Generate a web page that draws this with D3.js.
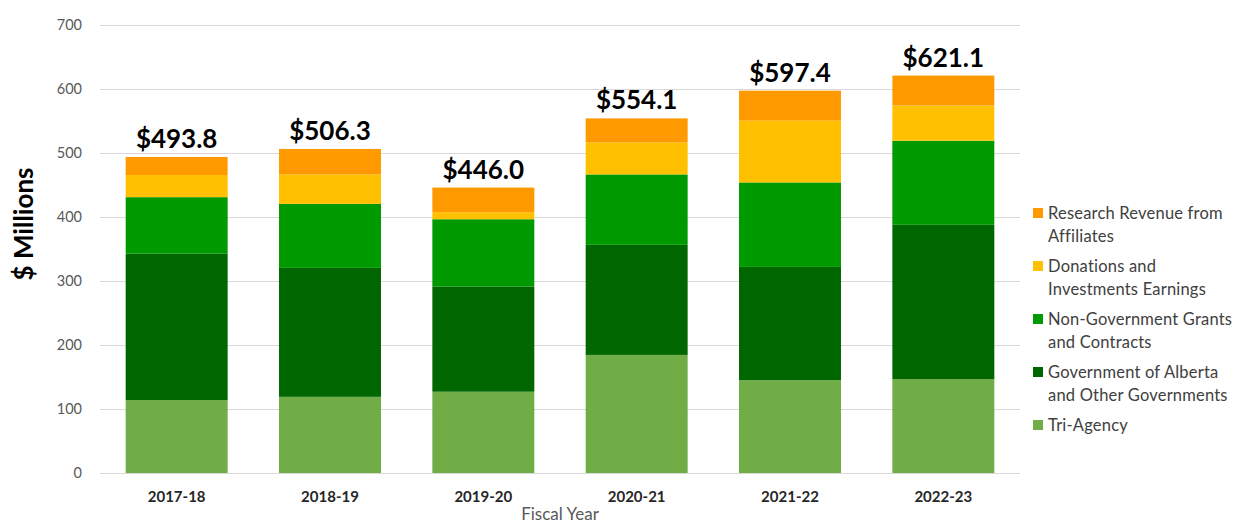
<!DOCTYPE html>
<html>
<head>
<meta charset="utf-8">
<script src="https://cdn.jsdelivr.net/npm/d3@7"></script>
<style>
  body { margin: 0; background: #fff; }
  svg text { font-family: Lato, "Open Sans", sans-serif; }
</style>
</head>
<body>
<div id="chart"></div>
<script>
const years = ["2017-18", "2018-19", "2019-20", "2020-21", "2021-22", "2022-23"];
const triAgency = [114.0, 119.0, 127.0, 184.5, 145.0, 146.6];
const govAlberta = [228.6, 201.5, 164.5, 172.0, 177.0, 241.2];
const nonGov = [88.4, 100.0, 105.0, 110.0, 132.0, 131.4];
const donations = [34.6, 46.0, 11.0, 50.0, 96.5, 55.0];
const affiliates = [28.2, 39.8, 38.5, 37.6, 46.9, 46.8];
const totals = ["$493.8", "$506.3", "$446.0", "$554.1", "$597.4", "$621.1"];
const yTicks = [0, 100, 200, 300, 400, 500, 600, 700];

const series = [
  { key: "tri", name: ["Tri-Agency"], values: triAgency, color: "#70ad47" },
  { key: "gov", name: ["Government of Alberta", "and Other Governments"], values: govAlberta, color: "#006600" },
  { key: "nongov", name: ["Non-Government Grants", "and Contracts"], values: nonGov, color: "#009900" },
  { key: "don", name: ["Donations and", "Investments Earnings"], values: donations, color: "#ffc000" },
  { key: "aff", name: ["Research Revenue from", "Affiliates"], values: affiliates, color: "#ff9900" }
];

const W = 1239, H = 527;
const margin = { top: 25, left: 100, right: 219, bottom: 54 };
const width = W - margin.left - margin.right;
const height = H - margin.top - margin.bottom;

const table = years.map((yr, i) => {
  const row = { year: yr };
  series.forEach(s => row[s.key] = s.values[i]);
  return row;
});
const stacked = d3.stack().keys(series.map(s => s.key))(table);

const x = d3.scaleBand().domain(years).range([0, width]).paddingInner(0.335).paddingOuter(0.1675);
const y = d3.scaleLinear().domain([0, 700]).range([height, 0]);

const svg = d3.select("#chart").append("svg")
  .attr("width", W).attr("height", H);
const g = svg.append("g").attr("transform", `translate(${margin.left},${margin.top})`);

// gridlines
g.append("g").selectAll("line").data(yTicks).join("line")
  .attr("x1", 0).attr("x2", width)
  .attr("y1", d => y(d) + 0.5).attr("y2", d => y(d) + 0.5)
  .attr("stroke", "#d9d9d9").attr("stroke-width", 1);

// y tick labels
g.append("g").selectAll("text").data(yTicks).join("text")
  .attr("x", -18).attr("y", d => y(d)).attr("dy", "0.35em")
  .attr("text-anchor", "end").attr("font-size", 14.5).attr("fill", "#595959")
  .text(d => d);

// bars
stacked.forEach((layer, li) => {
  g.append("g").attr("fill", series[li].color)
    .selectAll("rect").data(layer).join("rect")
    .attr("x", d => x(d.data.year))
    .attr("width", x.bandwidth())
    .attr("y", d => y(d[1]))
    .attr("height", d => y(d[0]) - y(d[1]));
});

// totals
const topLayer = stacked[stacked.length - 1];
g.append("g").selectAll("text").data(topLayer).join("text")
  .attr("x", d => x(d.data.year) + x.bandwidth() / 2)
  .attr("y", d => y(d[1]) - 9)
  .attr("text-anchor", "middle").attr("font-size", 26).attr("font-weight", "bold")
  .attr("fill", "#000")
  .text((d, i) => totals[i]);

// x labels
g.append("g").selectAll("text").data(years).join("text")
  .attr("x", d => x(d) + x.bandwidth() / 2)
  .attr("y", height + 24).attr("dy", "0.35em")
  .attr("text-anchor", "middle").attr("font-size", 15).attr("font-weight", "bold")
  .attr("fill", "#262626")
  .text(d => d);

g.append("text")
  .attr("x", width / 2).attr("y", height + 47)
  .attr("text-anchor", "middle").attr("font-size", 17).attr("fill", "#595959")
  .text("Fiscal Year");

svg.append("text")
  .attr("transform", `translate(33,224) rotate(-90)`)
  .attr("text-anchor", "middle").attr("font-size", 26).attr("font-weight", "bold")
  .attr("fill", "#000")
  .text("$ Millions");

// legend
const legend = svg.append("g").attr("transform", "translate(1033,213)");
const legendOrder = series.slice().reverse();
legendOrder.forEach((s, i) => {
  const lg = legend.append("g").attr("transform", `translate(0,${i * 53})`);
  lg.append("rect").attr("x", 0).attr("y", -5).attr("width", 10).attr("height", 10).attr("fill", s.color);
  s.name.forEach((line, j) => {
    lg.append("text").attr("x", 15).attr("y", j * 23).attr("dy", "0.35em")
      .attr("font-size", 16.5).attr("letter-spacing", 0.2).attr("fill", "#404040").text(line);
  });
});
</script>
</body>
</html>
